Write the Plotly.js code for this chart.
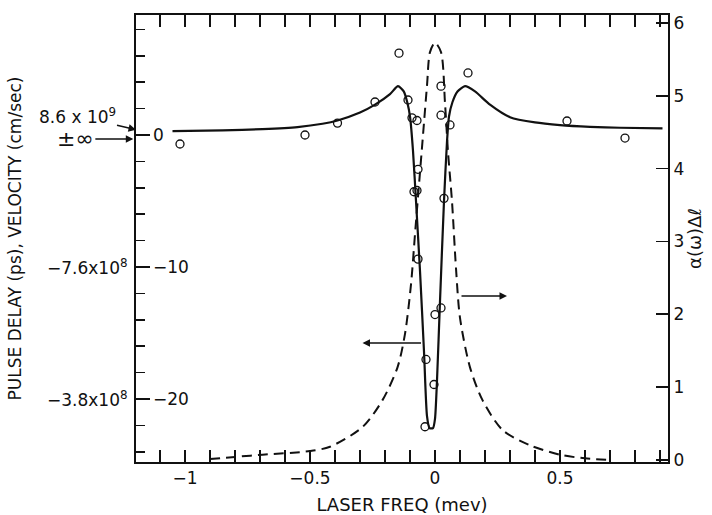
<!DOCTYPE html>
<html>
<head>
<meta charset="utf-8">
<script src="https://cdn.plot.ly/plotly-3.0.1.min.js"></script>
<style>body{margin:0;background:#fff}#chart{width:712px;height:515px}</style>
</head>
<body>
<div id="chart"></div>
<script>
// Solid curve: pulse delay (ps)
var delayX = [-1.05,-0.85,-0.69,-0.55,-0.45,-0.39,-0.30,-0.24,-0.18,-0.148,-0.125,-0.11,-0.10,-0.088,-0.076,-0.06,-0.044,-0.032,-0.022,-0.008,0.0,0.008,0.02,0.036,0.048,0.056,0.07,0.09,0.12,0.16,0.22,0.30,0.40,0.50,0.62,0.74,0.91];
var delayY = [0.3,0.35,0.45,0.6,0.85,1.1,1.7,2.3,3.1,3.7,3.3,2.4,1.4,-1.2,-5.0,-10.3,-16.4,-21.3,-22.2,-22.2,-21.5,-18.6,-12.6,-5.0,-0.5,1.4,2.5,3.3,3.7,3.3,2.3,1.35,0.95,0.75,0.62,0.55,0.5];
// Measured points (open circles)
var pointsX = [-1.02,-0.52,-0.39,-0.24,-0.144,-0.108,-0.092,-0.072,-0.068,-0.084,-0.072,-0.068,-0.036,-0.004,-0.04,0.0,0.024,0.036,0.024,0.024,0.06,0.132,0.528,0.76];
var pointsY = [-0.68,0.0,0.9,2.5,6.2,2.65,1.3,1.1,-2.6,-4.3,-4.2,-9.4,-17.0,-18.9,-22.1,-13.6,-13.1,-4.8,3.7,1.5,0.76,4.7,1.06,-0.23];
// Dashed curve: absorption alpha(omega)*Delta-l
var absX = [-0.9,-0.8,-0.69,-0.5,-0.42,-0.29,-0.21,-0.15,-0.12,-0.096,-0.08,-0.064,-0.048,-0.032,-0.02,0.0,0.024,0.04,0.052,0.068,0.084,0.1,0.14,0.19,0.27,0.38,0.5,0.6,0.7];
var absY = [0.01,0.04,0.07,0.12,0.18,0.45,0.82,1.27,1.73,2.41,3.1,3.78,4.46,5.14,5.6,5.73,5.6,4.9,4.23,3.55,2.63,1.95,1.27,0.82,0.41,0.2,0.07,0.02,0.0];

var xTickVals = [-1,-0.5,0,0.5];
var xTickText = ['\u22121','\u22120.5','0','0.5'];
var delayTickVals = [0,-10,-20];
var delayTickText = ['0','\u221210','\u221220'];
var velTickVals = [-10,-20];
var velTickText = ['\u22127.6x10<sup>8</sup>','\u22123.8x10<sup>8</sup>'];
var absTickVals = [0,1,2,3,4,5,6];
var absTickText = ['0','1','2','3','4','5','6'];

var F = 'DejaVu Sans, Arial, sans-serif';
var yRange = [-24.77, 9.09];

var traces = [
  {x: absX, y: absY, yaxis: 'y2', mode: 'lines', line: {color: '#111', width: 2, dash: '10px,6px', shape: 'spline', smoothing: 0.8}, hoverinfo: 'skip'},
  {x: delayX, y: delayY, mode: 'lines', line: {color: '#111', width: 2.2, shape: 'spline', smoothing: 0.6}, hoverinfo: 'skip'},
  {x: pointsX, y: pointsY, mode: 'markers', marker: {symbol: 'circle-open', size: 8, color: '#111', line: {width: 1.3, color: '#111'}}, hoverinfo: 'skip'}
];

var velLabels = velTickVals.map(function (v, i) {
  return {xref: 'paper', yref: 'y', x: 0, y: v, xanchor: 'right', yanchor: 'middle', xshift: -6,
          text: velTickText[i], showarrow: false, font: {size: 17, family: F}};
});
var delayLabels = delayTickVals.map(function (v, i) {
  return {xref: 'paper', yref: 'y', x: 0, y: v, xanchor: 'left', yanchor: 'middle', xshift: 15,
          text: delayTickText[i], showarrow: false, font: {size: 17, family: F}};
});

var layout = {
  width: 712, height: 515,
  margin: {l: 136, r: 44, t: 15, b: 53},
  paper_bgcolor: '#fff', plot_bgcolor: '#fff',
  showlegend: false,
  font: {family: F, color: '#111', size: 16},
  xaxis: {
    range: [-1.196, 0.932], showgrid: false, zeroline: false,
    showline: true, linecolor: '#111', linewidth: 2, mirror: 'allticks',
    ticks: 'inside', ticklen: 12, tickwidth: 1.5, tickcolor: '#111',
    tickvals: xTickVals, ticktext: xTickText,
    minor: {dtick: 0.1, tick0: 0, ticks: 'inside', ticklen: 7, tickwidth: 1.5, tickcolor: '#111'},
    tickfont: {size: 17, family: F},
    title: {text: 'LASER FREQ (mev)', font: {size: 18, family: F}, standoff: 12}
  },
  yaxis: {
    range: yRange, showgrid: false, zeroline: false,
    showline: true, linecolor: '#111', linewidth: 2,
    ticks: 'inside', ticklen: 14, tickwidth: 1.5, tickcolor: '#111',
    tickvals: delayTickVals, showticklabels: false,
    minor: {dtick: 2, tick0: 0, ticks: 'inside', ticklen: 9, tickwidth: 1.5, tickcolor: '#111'},
    title: {text: 'PULSE DELAY (ps), VELOCITY (cm/sec)', font: {size: 17, family: F}, standoff: 108}
  },
  yaxis2: {
    overlaying: 'y', side: 'right', anchor: 'x',
    range: [-0.03, 6.11], showgrid: false, zeroline: false,
    showline: true, linecolor: '#111', linewidth: 2,
    ticks: 'inside', ticklen: 12, tickwidth: 1.5, tickcolor: '#111',
    tickvals: absTickVals, ticktext: absTickText,
    tickfont: {size: 17, family: F},
    title: {text: 'α(ω)Δℓ', font: {size: 18, family: F}, standoff: 4}
  },
  annotations: velLabels.concat(delayLabels, [
    {xref: 'paper', yref: 'y', x: 0, y: 0.4, text: '8.6 x 10<sup>9</sup>', showarrow: true,
     ax: -59, ay: -14, arrowhead: 2, arrowsize: 1, arrowwidth: 1.5, arrowcolor: '#111',
     font: {size: 17, family: F}},
    {xref: 'paper', yref: 'y', x: -0.005, y: -0.3, text: '±∞', showarrow: true,
     ax: -58, ay: 0, arrowhead: 2, arrowsize: 1, arrowwidth: 1.5, arrowcolor: '#111',
     font: {size: 22, family: F}},
    {xref: 'x', yref: 'y', axref: 'x', ayref: 'y', x: -0.29, y: -15.76, ax: -0.05, ay: -15.76,
     text: '', showarrow: true, arrowhead: 2, arrowsize: 1, arrowwidth: 1.5, arrowcolor: '#111'},
    {xref: 'x', yref: 'y2', axref: 'x', ayref: 'y2', x: 0.288, y: 2.25, ax: 0.1, ay: 2.25,
     text: '', showarrow: true, arrowhead: 2, arrowsize: 1, arrowwidth: 1.5, arrowcolor: '#111'}
  ])
};

Plotly.newPlot('chart', traces, layout, {displayModeBar: false, staticPlot: true});
</script>
</body>
</html>
